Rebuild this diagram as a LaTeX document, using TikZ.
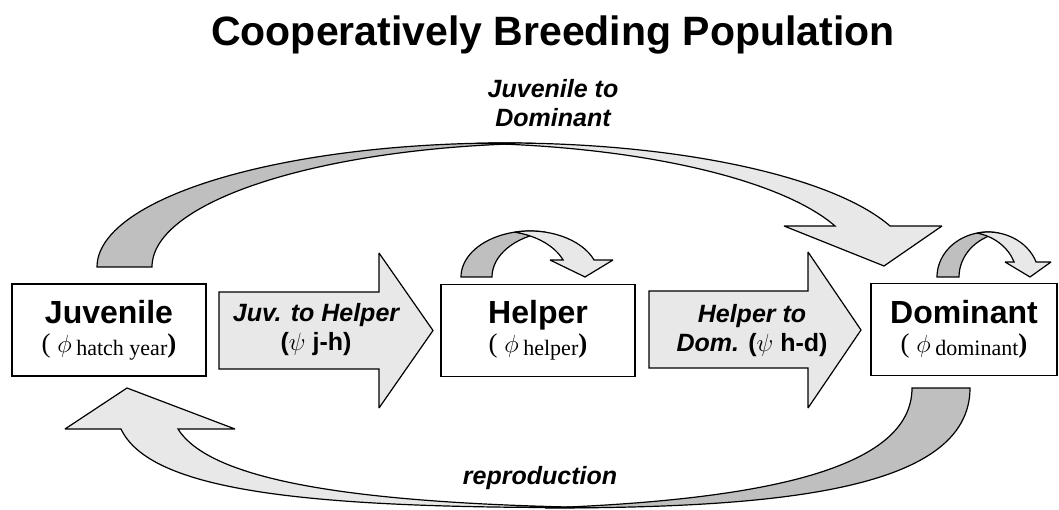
\documentclass[tikz,border=0pt]{standalone}
\usepackage{fontspec}
\setmainfont{Liberation Sans}
\newfontfamily\phifont{Liberation Serif}
\definecolor{bandlight}{gray}{0.91}
\definecolor{banddark}{gray}{0.75}
\newcommand{\stagename}[1]{{\fontsize{32}{32}\selectfont\bfseries #1}}
\newcommand{\survival}[1]{{\phifont\fontsize{27}{27}\selectfont(\ $\phi$\,\raisebox{-3pt}{\fontsize{22}{22}\selectfont #1}\textbf{)}}}

\begin{document}
\begin{tikzpicture}[x=1pt,y=-1pt,
            box/.style={draw,line width=1.2pt,fill=white,minimum width=194pt,minimum height=92pt,
                        inner sep=0pt,align=center,font=\fontsize{30}{29}\selectfont},
            fat/.style={draw,line width=1.2pt,line join=miter,miter limit=3},
            light/.style={fat,fill=bandlight},
            dark/.style={fat,fill=banddark},
            lbl/.style={font=\fontsize{25}{29}\selectfont\bfseries\itshape,align=center}]
            \useasboundingbox (0,0) rectangle (1059,510);
            \node[font=\fontsize{41}{41}\selectfont\bfseries] (title) at (553,35) {Cooperatively Breeding Population};
            %==================
            % juvenile to dominant
            \draw[dark] (97,267) arc[start angle=-180,end angle=-86.135,x radius=408,y radius=124]
                arc[start angle=-93.865,end angle=-180,x radius=408,y radius=124] -- cycle;
            \draw[light] (477.5,143.28) arc[start angle=-93.865,end angle=-19.31,x radius=408,y radius=124]
                -- (942,226) -- (884,266) -- (784,226)
                -- (835,226) arc[start angle=-19.31,end angle=-86.135,x radius=408,y radius=124] -- cycle;
            \node[lbl] (jd) at (553,103) {Juvenile to\\Dominant};
            %==================
            % staying helper
            \draw[dark] (461,277) arc[start angle=-180,end angle=-77.02,x radius=69,y radius=46]
                arc[start angle=-102.98,end angle=-180,x radius=69,y radius=46] -- cycle;
            \draw[light] (514.5,232.18) arc[start angle=-102.98,end angle=-21.69,x radius=69,y radius=46]
                -- (613,260) -- (585,277) -- (550,260)
                -- (563.1,260) arc[start angle=-21.69,end angle=-77.02,x radius=69,y radius=46] -- cycle;
            % staying dominant
            \draw[dark] (937,277) arc[start angle=-180,end angle=-77.54,x radius=51,y radius=45]
                arc[start angle=-102.46,end angle=-180,x radius=51,y radius=45] -- cycle;
            \draw[light] (977,233.06) arc[start angle=-102.46,end angle=-19.47,x radius=51,y radius=45]
                -- (1051,262) -- (1030,277) -- (1005,262)
                -- (1014.1,262) arc[start angle=-19.47,end angle=-77.54,x radius=51,y radius=45] -- cycle;
            %==================
            % reproduction
            \draw[dark] (970,388) .. controls (970,490) and (780,508) .. (545,508)
                .. controls (760,500) and (912,470) .. (912,388) -- cycle;
            \draw[light] (590,507.5) .. controls (300,508.5) and (150,490) .. (121,429)
                -- (65,429) -- (127,388) -- (235,429)
                -- (178,429) .. controls (210,480) and (350,503) .. (590,507.5) -- cycle;
            \node[lbl] (repro) at (540,478) {reproduction};
            %==================
            % transitions
            \draw[light] (219,292) -- (379,292) -- (379,253) -- (433,330.5) -- (379,408) -- (379,369) -- (219,369) -- cycle;
            \draw[light] (649,291) -- (808,291) -- (808,252) -- (861,330) -- (808,408) -- (808,368) -- (649,368) -- cycle;
            \node[lbl] (jh) at (316,330) {Juv. to Helper\\{\upshape($\psi$ j-h)}};
            \node[lbl] (hd) at (752,331) {Helper to\\Dom. {\upshape($\psi$ h-d)}};
            %==================
            % stages
            \node[box] (juv) at (109,330) {\stagename{Juvenile}\\\survival{hatch year}};
            \node[box] (hlp) at (538,330.5) {\stagename{Helper}\\\survival{helper}};
            \node[box,minimum width=186pt] (dom) at (964,329.5) {\stagename{Dominant}\\\survival{dominant}};
        \end{tikzpicture}
\end{document}
